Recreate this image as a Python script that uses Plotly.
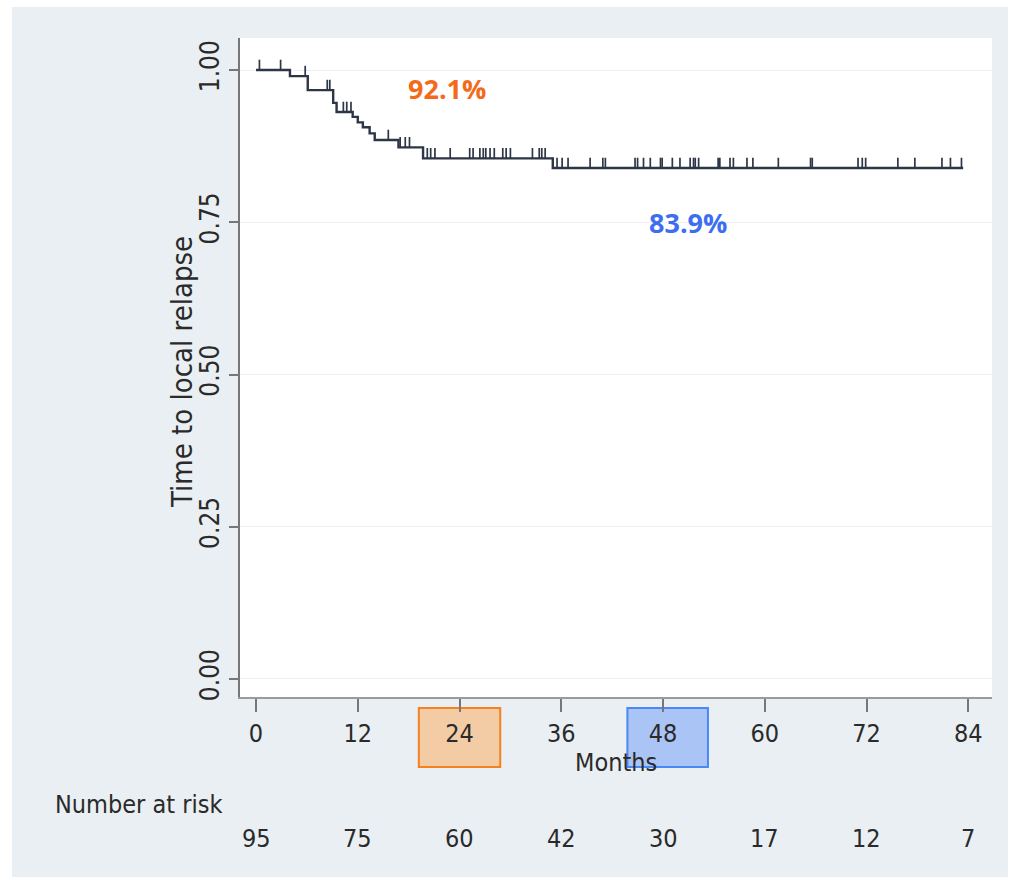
import plotly.graph_objects as go

# Kaplan-Meier estimate: step times (months) and survival after each step
step_time = [0, 4.0, 6.1, 9.1, 9.5, 11.4, 12.0, 12.6, 13.4, 14.0, 16.8, 19.7, 35.0, 83.4]
step_surv = [1.000, 0.990, 0.967, 0.946, 0.931, 0.923, 0.914, 0.906, 0.896, 0.885, 0.873, 0.855, 0.839, 0.839]

# censored observations (months)
censor_time = [0.4, 2.9, 5.8, 8.4, 8.7, 10.3, 10.7, 11.2, 15.6, 17.0, 17.6, 18.1,
               20.2, 20.6, 21.1, 22.9, 25.2, 25.6, 26.4, 26.8, 27.1, 27.6, 28.1,
               29.1, 29.5, 30.0, 32.6, 33.4, 33.7, 34.1, 35.5, 36.1, 36.8, 39.4,
               40.9, 41.2, 44.7, 45.0, 45.7, 46.5, 47.7, 47.9, 49.1, 50.0, 51.2,
               51.6, 51.8, 52.2, 54.5, 54.7, 55.9, 56.3, 57.9, 58.6, 61.6, 65.4,
               65.6, 71.0, 71.5, 71.9, 75.7, 77.7, 80.9, 81.9, 83.2]

month_ticks = [0, 12, 24, 36, 48, 60, 72, 84]
at_risk = [95, 75, 60, 42, 30, 17, 12, 7]
y_ticks = [0.00, 0.25, 0.50, 0.75, 1.00]
y_tick_text = ["0.00", "0.25", "0.50", "0.75", "1.00"]

label_24 = "92.1%"
label_48 = "83.9%"

W, H = 1013, 882
ML, MR, MT, MB = 240, 21, 38, 185
LINE = "#2c3646"
TXT = "#2a2a2a"
NARROW = "Liberation Sans Narrow, DejaVu Sans Condensed, Arial Narrow, sans-serif"
FS = 25


def surv_at(t):
    s = step_surv[0]
    for tt, ss in zip(step_time, step_surv):
        if tt <= t:
            s = ss
    return s


# vertical censor ticks sitting on the curve
cx, cy = [], []
for t in censor_time:
    s = surv_at(t)
    cx += [t, t, None]
    cy += [s, s + 0.017, None]

fig = go.Figure()
fig.add_trace(go.Scatter(x=step_time, y=step_surv, mode="lines",
                         line=dict(color=LINE, width=2.4, shape="hv"),
                         hoverinfo="skip", showlegend=False))
fig.add_trace(go.Scatter(x=cx, y=cy, mode="lines",
                         line=dict(color=LINE, width=1.7),
                         hoverinfo="skip", showlegend=False))

pw = W - ML - MR
ph = H - MT - MB


def px_to_paper_x(p):
    return (p - ML) / pw


def px_to_paper_y(p):
    return (H - MB - p) / ph


shapes = [
    # outer panel
    dict(type="rect", xref="paper", yref="paper", layer="below",
         x0=px_to_paper_x(12), x1=px_to_paper_x(1008),
         y0=px_to_paper_y(877), y1=px_to_paper_y(7),
         fillcolor="#e9eff2", line=dict(width=0)),
    # plot region
    dict(type="rect", xref="paper", yref="paper", layer="below",
         x0=0, x1=1, y0=0, y1=1, fillcolor="white", line=dict(width=0)),
    # highlight boxes around 24 and 48 months
    dict(type="rect", xref="x", yref="paper", layer="below",
         x0=19.2, x1=28.8, y0=px_to_paper_y(767), y1=px_to_paper_y(708),
         fillcolor="#f3cba5", line=dict(color="#f5821f", width=2)),
    dict(type="rect", xref="x", yref="paper", layer="below",
         x0=43.8, x1=53.3, y0=px_to_paper_y(767), y1=px_to_paper_y(708),
         fillcolor="#aac4f5", line=dict(color="#4b88f7", width=2)),
]

annotations = [
    dict(text=label_24, x=22.5, y=0.970, xref="x", yref="y", showarrow=False,
         font=dict(family="Open Sans", size=27, color="#f26a1a", weight="bold")),
    dict(text=label_48, x=50.9, y=0.750, xref="x", yref="y", showarrow=False,
         font=dict(family="Open Sans", size=27, color="#3d6ef0", weight="bold")),
    dict(text="Months", x=0.5, y=px_to_paper_y(763), xref="paper", yref="paper",
         showarrow=False, yanchor="middle",
         font=dict(family=NARROW, size=FS, color=TXT)),
    dict(text="Time to local relapse", x=px_to_paper_x(182), y=px_to_paper_y(372),
         xref="paper", yref="paper", showarrow=False, textangle=-90,
         xanchor="center", yanchor="middle",
         font=dict(family=NARROW, size=29, color=TXT)),
    dict(text="Number at risk", x=px_to_paper_x(53), y=px_to_paper_y(804),
         xref="paper", yref="paper", showarrow=False, xanchor="left",
         yanchor="middle", font=dict(family=NARROW, size=FS, color=TXT)),
]
for m, n in zip(month_ticks, at_risk):
    annotations.append(dict(text=str(n), x=m, y=px_to_paper_y(838), xref="x",
                            yref="paper", showarrow=False, yanchor="middle",
                            font=dict(family=NARROW, size=FS, color=TXT)))

fig.update_layout(
    width=W, height=H,
    margin=dict(l=ML, r=MR, t=MT, b=MB),
    paper_bgcolor="white", plot_bgcolor="white",
    shapes=shapes, annotations=annotations,
    showlegend=False,
    xaxis=dict(range=[-1.89, 86.8], tickvals=month_ticks,
               ticktext=[str(m) for m in month_ticks],
               showgrid=False, zeroline=False,
               showline=True, linecolor="#9a9a9a", linewidth=1.5,
               ticks="outside", ticklen=13, tickcolor="#777", tickwidth=1.5,
               tickfont=dict(family=NARROW, size=FS, color=TXT)),
    yaxis=dict(range=[-0.0296, 1.0526], tickvals=y_ticks, ticktext=y_tick_text,
               showgrid=True, gridcolor="#edf1f3", gridwidth=1, zeroline=False,
               showline=True, linecolor="#777", linewidth=1.5,
               ticks="outside", ticklen=9, tickcolor="#777", tickwidth=1.5,
               tickangle=-90,
               tickfont=dict(family=NARROW, size=FS + 1, color=TXT)),
)

fig.write_html("out.html")
